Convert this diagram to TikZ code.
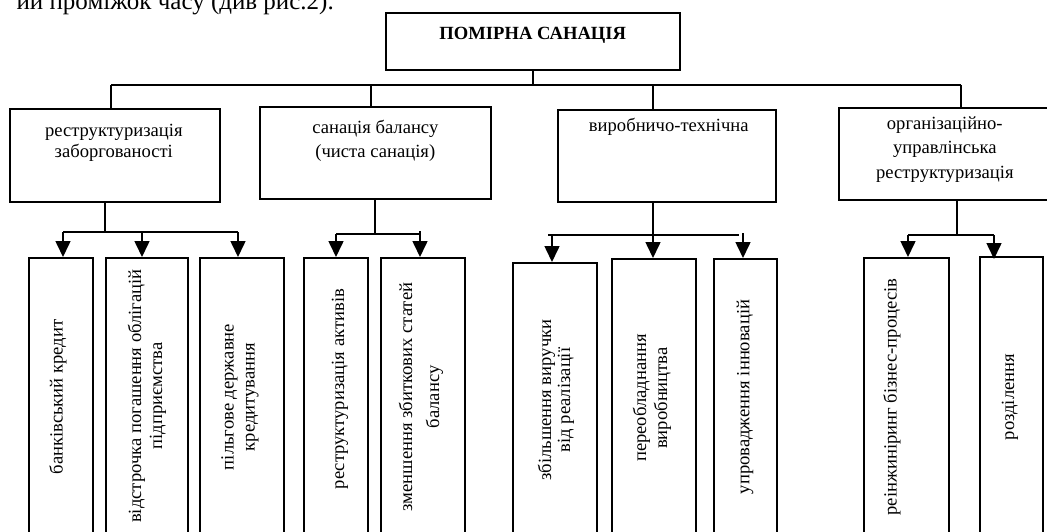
\documentclass[tikz,border=0pt]{standalone}
\usepackage{fontspec}
\setmainfont{Liberation Serif}
\usepackage{tikz}
\usetikzlibrary{arrows.meta,calc}

\tikzset{
  box/.style={draw, line width=1.6pt, inner sep=0pt, anchor=north west},
  cattxt/.style={inner sep=0pt, anchor=north, align=center, font=\fontsize{18.6}{21}\selectfont},
  leaftxt/.style={inner sep=0pt, rotate=90, align=center, font=\fontsize{18.6}{21}\selectfont},
  link/.style={line width=1.6pt},
  arr/.style={link, -{Triangle[length=16pt,width=15pt]}}
}

\begin{document}
\begin{tikzpicture}[x=1pt,y=-1pt]
    \useasboundingbox (0,0) rectangle (1047,532);
    \clip (0,0) rectangle (1047,532);
    %text above
    \node[anchor=base east, inner sep=0pt, font=\fontsize{25}{28}\selectfont] (prev) at (334,10) {ий проміжок часу (див рис.2).};
    %definitions
    \node[box, minimum width=294pt, minimum height=57pt] (top) at (385,12) {};
    \node[box, minimum width=210pt, minimum height=93pt] (c1) at (9,108) {};
    \node[box, minimum width=231pt, minimum height=92pt] (c2) at (259,106) {};
    \node[box, minimum width=218pt, minimum height=92pt] (c3) at (557,109) {};
    \node[box, minimum width=212pt, minimum height=92pt] (c4) at (838,107) {};
    \node[box, minimum width=64pt, minimum height=283pt] (l11) at (28,257) {};
    \node[box, minimum width=82pt, minimum height=283pt] (l12) at (105,257) {};
    \node[box, minimum width=84pt, minimum height=283pt] (l13) at (199,257) {};
    \node[box, minimum width=64pt, minimum height=283pt] (l21) at (303,257) {};
    \node[box, minimum width=84pt, minimum height=283pt] (l22) at (380,257) {};
    \node[box, minimum width=84pt, minimum height=278pt] (l31) at (512,262) {};
    \node[box, minimum width=84pt, minimum height=282pt] (l32) at (611,258) {};
    \node[box, minimum width=63pt, minimum height=282pt] (l33) at (713,258) {};
    \node[box, minimum width=85pt, minimum height=283pt] (l41) at (863,257) {};
    \node[box, minimum width=63pt, minimum height=284pt] (l42) at (979,256) {};
    \coordinate (b1) at (111,85);
    \coordinate (b2) at (371,85);
    \coordinate (b3) at (653,85);
    \coordinate (b4) at (961,85);
    \coordinate (j1) at (105,232);
    \coordinate (a11) at (63,232);
    \coordinate (a12) at (142,232);
    \coordinate (a13) at (238,232);
    \coordinate (j2) at (375,234);
    \coordinate (a21) at (336,234);
    \coordinate (a22) at (420,234);
    \coordinate (j3) at (653,235);
    \coordinate (h31) at (548,235);
    \coordinate (h32) at (739,235);
    \coordinate (a31) at (552,235);
    \coordinate (a33) at (743,233);
    \coordinate (j4) at (957,235);
    \coordinate (a41) at (908,235);
    \coordinate (a42) at (994,235);
    %drawing
    \draw[link] (top.south) -- (top.south |- b1);
    \draw[link] (b1) -- (b4);
    \foreach \b/\c in {b1/c1,b2/c2,b3/c3,b4/c4}
        \draw[link] (\b) -- (\b |- \c.north);
    \draw[link] (j1 |- c1.south) -- (j1);
    \draw[link] (a11) -- (a13);
    \foreach \a/\l in {a11/l11,a12/l12,a13/l13}
        \draw[arr] (\a) -- (\a |- \l.north);
    \draw[link] (j2 |- c2.south) -- (j2);
    \draw[link] (a21) -- (a22);
    \draw[arr] (a21) -- (a21 |- l21.north);
    \draw[arr] ($(a22)+(0,-3)$) -- (a22 |- l22.north);
    \draw[link] (h31) -- (h32);
    \draw[arr] (j3 |- c3.south) -- (j3 |- l32.north);
    \draw[arr] (a31) -- (a31 |- l31.north);
    \draw[arr] (a33) -- (a33 |- l33.north);
    \draw[link] (j4 |- c4.south) -- (j4);
    \draw[link] (a41) -- (a42);
    \draw[arr] (a41) -- (a41 |- l41.north);
    \draw[arr] (a42) -- ($(a42 |- l42.north)+(0,3)$);
    %label
    \node[font=\fontsize{18.6}{21}\selectfont\bfseries, inner sep=0pt, anchor=north] (ttop) at ([yshift=-15pt]top.north) {ПОМІРНА САНАЦІЯ};
    \node[cattxt] (t1) at ([yshift=-15.5pt,xshift=-1pt]c1.north) {реструктуризація\\заборгованості};
    \node[cattxt, font=\fontsize{18.6}{24}\selectfont] (t2) at ([yshift=-13.5pt]c2.north) {санація балансу\\(чиста санація)};
    \node[cattxt] (t3) at ([yshift=-9pt,xshift=2pt]c3.north) {виробничо-технічна};
    \node[cattxt, font=\fontsize{18.6}{24.5}\selectfont] (t4) at ([yshift=-9.5pt]c4.north) {організаційно-\\управлінська\\реструктуризація};
    \node[leaftxt] (t11) at (58,397) {банківський кредит};
    \node[leaftxt] (t12) at (147,396) {відстрочка погашення облігацій\\підприємства};
    \node[leaftxt] (t13) at (240,397) {пільгове державне\\кредитування};
    \node[leaftxt] (t21) at (340,389) {реструктуризація активів};
    \node[leaftxt, font=\fontsize{18.6}{27}\selectfont] (t22) at (421,397) {зменшення збиткових статей\\балансу};
    \node[leaftxt, font=\fontsize{18.6}{19}\selectfont] (t31) at (556,400) {збільшення виручки\\від реалізації};
    \node[leaftxt] (t32) at (652,398) {переобладнання\\виробництва};
    \node[leaftxt] (t33) at (745,397) {упровадження інновацій};
    \node[leaftxt] (t41) at (892,397) {реінжиніринг бізнес-процесів};
    \node[leaftxt] (t42) at (1010,397) {розділення};
\end{tikzpicture}
\end{document}
